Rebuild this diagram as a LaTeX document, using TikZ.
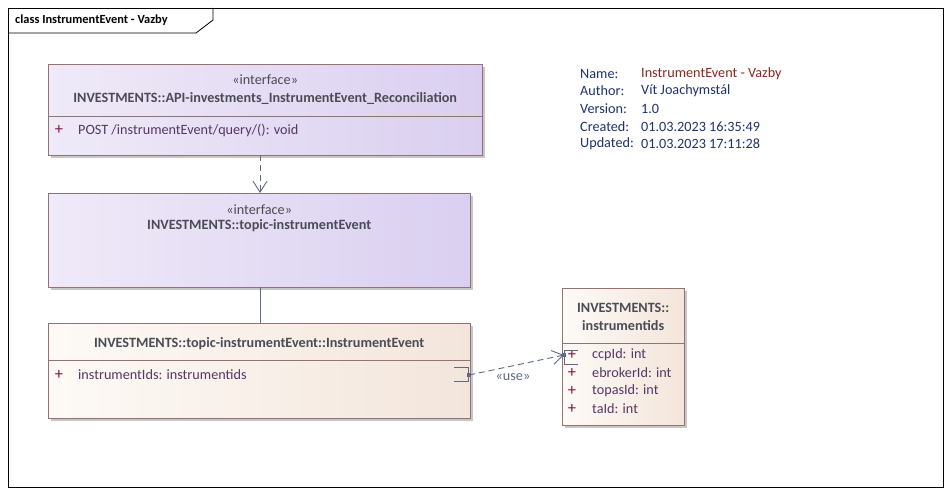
\documentclass[tikz,border=0pt]{standalone}
\usepackage{fontspec}
\setmainfont{Carlito}
\usepackage{xcolor}
\usetikzlibrary{positioning,shadows,arrows.meta,calc}

\definecolor{ifaceL}{RGB}{239,234,248}
\definecolor{ifaceR}{RGB}{218,207,240}
\definecolor{clsL}{RGB}{253,250,246}
\definecolor{clsR}{RGB}{243,229,219}
\definecolor{boxline}{RGB}{145,115,115}
\definecolor{nametext}{RGB}{75,75,85}
\definecolor{plusred}{RGB}{130,20,60}
\definecolor{attrtext}{RGB}{85,55,100}
\definecolor{linkgray}{RGB}{95,105,135}
\definecolor{notelabel}{RGB}{30,50,110}
\definecolor{noteval}{RGB}{140,40,30}

\newcommand{\umlfont}{\fontsize{14.2}{16}\selectfont}

\tikzset{
  umlbox/.style={draw=boxline, anchor=north west, inner sep=0pt,
    drop shadow={shadow xshift=3pt, shadow yshift=-3pt, fill=black!22, opacity=1}},
  ifacebox/.style={umlbox, left color=ifaceL, right color=ifaceR},
  clsbox/.style={umlbox, left color=clsL, right color=clsR},
  stereo/.style={text=nametext, font=\umlfont, inner sep=0pt},
  boxname/.style={text=nametext, font=\umlfont\bfseries, inner sep=0pt},
  plus/.style={text=plusred, font=\fontsize{16.5}{18}\selectfont, inner sep=0pt},
  attr/.style={text=attrtext, font=\umlfont, inner sep=0pt, anchor=west},
  notekey/.style={text=notelabel, font=\umlfont, inner sep=0pt, anchor=west},
  link/.style={draw=linkgray, line width=0.9pt},
  openv/.style={-{Straight Barb[length=11pt,width=14pt,line width=0.9pt]}},
}

\begin{document}
\begin{tikzpicture}[x=1pt,y=-1pt]
  \useasboundingbox[fill=white] (0,0) rectangle (952,495);

  % Frame
  \draw[line width=0.8pt] (8,8) rectangle (943,487);
  \draw[line width=0.8pt] (8,33) -- (196,33) -- (213,20) -- (213,8);
  \node[anchor=west, inner sep=0pt, font=\fontsize{12.4}{14}\selectfont\bfseries] (title) at (15,20) {class InstrumentEvent - Vazby};

  % API interface
  \node[ifacebox, minimum width=434pt, minimum height=91pt] (api) at (48,64) {};
  \node[stereo] (apist) at ($(api.north)+(0,16)$) {«interface»};
  \node[boxname] (apiname) at ($(api.north)+(0,34)$) {INVESTMENTS::API-investments\_InstrumentEvent\_Reconciliation};
  \draw[boxline] ($(api.north west)+(0,52)$) -- ($(api.north east)+(0,52)$);
  \node[plus] (apiplus) at (59,130) {+};
  \node[attr] (apiop) at (78,130) {POST /instrumentEvent/query/(): void};

  % Topic interface
  \node[ifacebox, minimum width=422pt, minimum height=94pt] (topic) at (48,193) {};
  \node[stereo] (topicst) at ($(topic.north)+(0,17)$) {«interface»};
  \node[boxname] (topicname) at ($(topic.north)+(0,33)$) {INVESTMENTS::topic-instrumentEvent};

  % InstrumentEvent class
  \node[clsbox, minimum width=422pt, minimum height=95pt] (cls) at (48,323) {};
  \node[boxname] (clsname) at ($(cls.north)+(0,21)$) {INVESTMENTS::topic-instrumentEvent::InstrumentEvent};
  \draw[boxline] ($(cls.north west)+(0,37)$) -- ($(cls.north east)+(0,37)$);
  \node[plus] (clsplus) at (59,375) {+};
  \node[attr] (clsattr) at (78,375) {instrumentIds: instrumentids};

  % instrumentids class
  \node[clsbox, minimum width=122pt, minimum height=137pt] (ids) at (562,288) {};
  \node[boxname] (idsname1) at ($(ids.north)+(0,20)$) {INVESTMENTS::};
  \node[boxname] (idsname2) at ($(ids.north)+(0,38)$) {instrumentids};
  \draw[boxline] ($(ids.north west)+(0,55)$) -- ($(ids.north east)+(0,55)$);
  \foreach \nm/\yy in {ccpId/355, ebrokerId/373, topasId/391, taId/409} {
    \node[plus] (p\nm) at (572,\yy) {+};
    \node[attr] (a\nm) at (592,\yy) {\nm: int};
  }

  % Note
  \foreach \k/\yy in {Name:/74, Author:/91, Version:/109, Created:/127, Updated:/144} {
    \node[notekey] at (580,\yy) {\k};
  }
  \node[notekey, text=noteval] (nname) at (641,74) {InstrumentEvent - Vazby};
  \node[notekey] (nauthor) at (641,91) {Vít Joachymstál};
  \node[notekey] (nver) at (641,109) {1.0};
  \node[notekey] (ncre) at (641,127) {01.03.2023 16:35:49};
  \node[notekey] (nupd) at (641,144) {01.03.2023 17:11:28};

  % Connectors
  \draw[link, dash pattern=on 6pt off 4pt, openv] (api.south -| 260,0) -- (topic.north -| 260,0);
  \draw[link] (topic.south -| 260,0) -- (cls.north -| 260,0);

  % use dependency
  \coordinate (usefrom) at (469,375);
  \coordinate (useto) at (564,355);
  \draw[link] (454,367) -- (468,367) -- (468,381) -- (454,381);
  \draw[link] (578,350) -- (564,350) -- (564,364) -- (578,364);
  \draw[link, dash pattern=on 6pt off 4pt, openv] (usefrom) -- (useto);
  \fill[linkgray] ($(usefrom)+(-2,-2)$) rectangle ($(usefrom)+(2,2)$);
  \fill[linkgray] ($(useto)+(-2,-2)$) rectangle ($(useto)+(2,2)$);
  \node[stereo, text=linkgray] (uselbl) at (513,377) {«use»};
\end{tikzpicture}
\end{document}
